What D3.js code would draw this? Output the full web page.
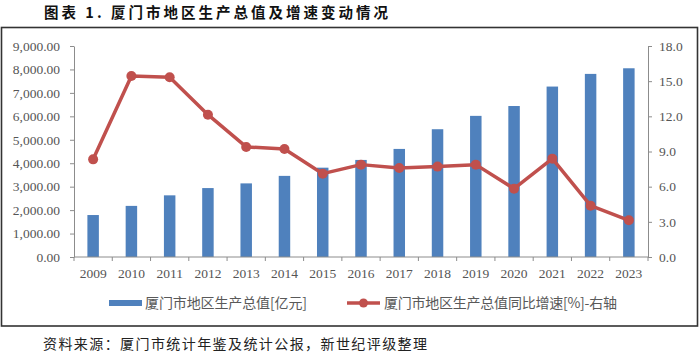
<!DOCTYPE html>
<html><head><meta charset="utf-8">
<script src="https://cdn.jsdelivr.net/npm/d3@7"></script>
<style>
body{margin:0;background:#fff;}
svg{display:block;}
</style></head>
<body><svg id="c" width="700" height="353"></svg>
<script>
const years = ["2009","2010","2011","2012","2013","2014","2015","2016","2017","2018","2019","2020","2021","2022","2023"];
const gdp = [1790,2180,2630,2940,3140,3460,3810,4140,4610,5450,6020,6440,7270,7810,8050];
const growth = [8.33,15.44,15.33,12.14,9.39,9.21,7.11,7.88,7.59,7.71,7.88,5.83,8.39,4.38,3.13];
const leftTicks = [0,1000,2000,3000,4000,5000,6000,7000,8000,9000];
const rightTicks = [0,3,6,9,12,15,18];
const seriesNames = ["厦门市地区生产总值[亿元]","厦门市地区生产总值同比增速[%]-右轴"];
const titleText = "图表 1. 厦门市地区生产总值及增速变动情况";
const sourceText = "资料来源：厦门市统计年鉴及统计公报，新世纪评级整理";

const svg = d3.select("#c");
const L=74, R=648, T=46, B=257;
const x = d3.scaleBand().domain(years).range([L,R]).paddingInner(0.7).paddingOuter(0.35);
const xb = d3.scaleBand().domain(years).range([L,R]);
const yL = d3.scaleLinear().domain([0,9000]).range([B,T]);
const yR = d3.scaleLinear().domain([0,18]).range([B,T]);
const serif = "'Liberation Serif','Times New Roman',serif";
const cjk = "'Noto Sans CJK SC','Noto Sans',sans-serif";
const axisCol = "#8c8c8c";

svg.append("text").attr("x",44).attr("y",18).attr("font-family",cjk).attr("font-weight","bold")
  .attr("font-size",14.5).attr("fill","#111").attr("textLength",344).attr("lengthAdjust","spacing").text(titleText);
svg.append("rect").attr("x",1.5).attr("y",27.5).attr("width",696).attr("height",298.5)
  .attr("fill","none").attr("stroke","#333").attr("stroke-width",1.6);

// bars
svg.append("g").selectAll("rect").data(gdp).join("rect")
  .attr("x",(d,i)=>x(years[i])).attr("width",x.bandwidth())
  .attr("y",d=>yL(d)).attr("height",d=>B-yL(d)).attr("fill","#4F81BD");

// left axis
const gl = svg.append("g").attr("transform",`translate(${L},0)`)
  .call(d3.axisLeft(yL).tickValues(leftTicks).tickSize(4).tickSizeOuter(0).tickFormat(d=>d3.format(",.2f")(d)));
gl.select(".domain").attr("stroke",axisCol);
gl.selectAll("line").attr("stroke",axisCol);
gl.selectAll("text").attr("font-family",serif).attr("font-size",13.5).attr("fill","#555").attr("x",-14);

// right axis
const gr = svg.append("g").attr("transform",`translate(${R},0)`)
  .call(d3.axisRight(yR).tickValues(rightTicks).tickSize(4).tickSizeOuter(0).tickFormat(d3.format(".1f")));
gr.select(".domain").attr("stroke",axisCol);
gr.selectAll("line").attr("stroke",axisCol);
gr.selectAll("text").attr("font-family",serif).attr("font-size",13.5).attr("fill","#555").attr("x",11);

// x axis
const gx = svg.append("g").attr("transform",`translate(0,${B})`);
gx.append("line").attr("x1",L).attr("x2",R).attr("stroke",axisCol);
const bounds = years.map(y=>xb(y)).concat([R]);
gx.selectAll("line.t").data(bounds).join("line").attr("class","t")
  .attr("x1",d=>d).attr("x2",d=>d).attr("y1",0).attr("y2",4).attr("stroke",axisCol);
gx.selectAll("text").data(years).join("text")
  .attr("x",d=>xb(d)+xb.bandwidth()/2).attr("y",21).attr("text-anchor","middle")
  .attr("font-family",serif).attr("font-size",13.5).attr("fill","#555").text(d=>d);

// line
const line = d3.line().x((d,i)=>xb(years[i])+xb.bandwidth()/2).y(d=>yR(d));
svg.append("path").datum(growth).attr("d",line).attr("fill","none")
  .attr("stroke","#C0504D").attr("stroke-width",3.5).attr("stroke-linejoin","round");
svg.append("g").selectAll("circle").data(growth).join("circle")
  .attr("cx",(d,i)=>xb(years[i])+xb.bandwidth()/2).attr("cy",d=>yR(d)).attr("r",5).attr("fill","#C0504D");

// legend
const lg = svg.append("g");
lg.append("rect").attr("x",109).attr("y",300).attr("width",33).attr("height",6).attr("fill","#4F81BD");
lg.append("text").attr("x",145).attr("y",308).attr("font-family",cjk).attr("font-size",14).attr("fill","#595959")
  .attr("textLength",162).attr("lengthAdjust","spacing").text(seriesNames[0]);
lg.append("line").attr("x1",347).attr("x2",380).attr("y1",303).attr("y2",303).attr("stroke","#C0504D").attr("stroke-width",3.5);
lg.append("circle").attr("cx",363.5).attr("cy",303).attr("r",4.5).attr("fill","#C0504D");
lg.append("text").attr("x",384).attr("y",308).attr("font-family",cjk).attr("font-size",14).attr("fill","#595959")
  .attr("textLength",233).attr("lengthAdjust","spacing").text(seriesNames[1]);

svg.append("text").attr("x",43).attr("y",349).attr("font-family",cjk).attr("font-size",14)
  .attr("fill","#222").attr("textLength",384).attr("lengthAdjust","spacing").text(sourceText);
</script></body></html>
